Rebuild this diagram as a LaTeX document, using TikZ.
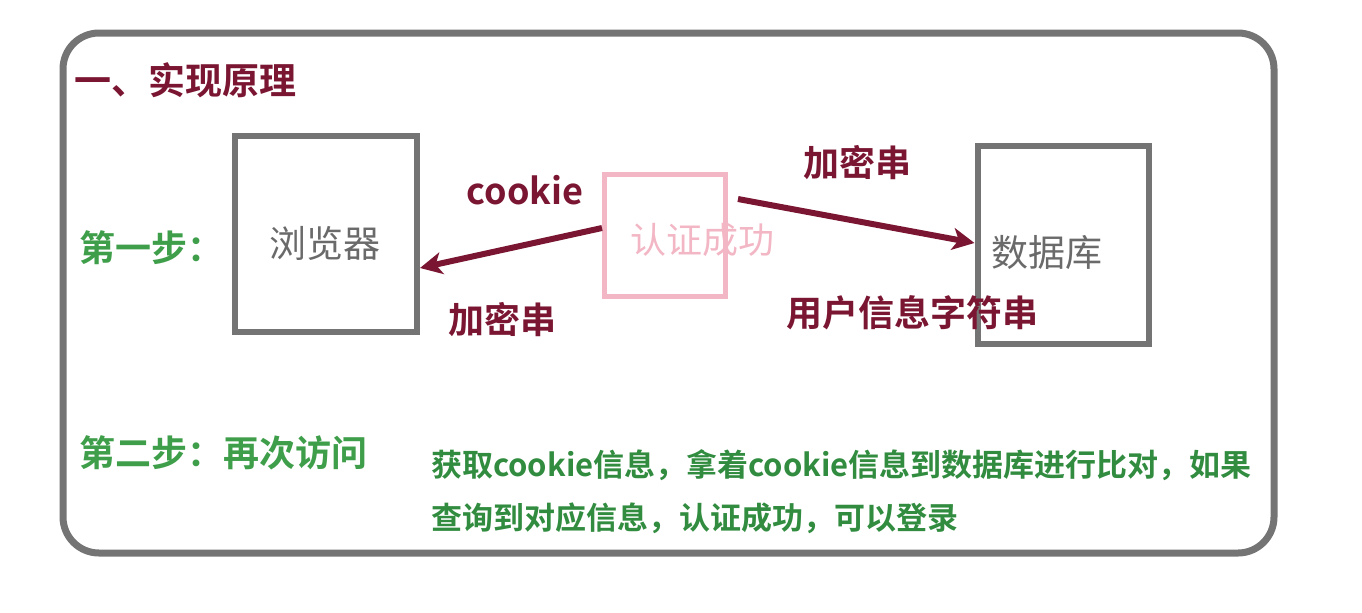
\documentclass[tikz,border=0pt]{standalone}
\usepackage{fontspec}
\setmainfont{Noto Sans CJK SC}[BoldFont=* Bold]
\usepackage{xcolor}
\usetikzlibrary{arrows.meta}
\definecolor{maroon}{HTML}{7A1632}
\definecolor{stepgreen}{HTML}{3E9E4A}
\definecolor{notegreen}{HTML}{318C40}
\definecolor{boxgray}{HTML}{747474}
\definecolor{textgray}{HTML}{6A6A6A}
\definecolor{stamppink}{HTML}{F2B6C4}

\begin{document}
\begin{tikzpicture}[x=0.5pt,y=-0.5pt,
  box/.style={draw=boxgray,line width=3pt,inner sep=0pt},
  boxname/.style={text=textgray,font=\fontsize{18.5}{20}\selectfont},
  lbl/.style={text=maroon,font=\fontsize{18}{20}\selectfont\bfseries},
  steplbl/.style={text=stepgreen,anchor=west,font=\fontsize{18}{20}\selectfont\bfseries},
  flow/.style={draw=maroon,line width=3pt,-{Stealth[length=11pt,width=11pt,inset=3pt]}}]
  \useasboundingbox (0,0) rectangle (1362,612);
  \draw[boxgray,line width=3.5pt,rounded corners=18pt] (63,33) rectangle (1274,553);
  \node[lbl,anchor=west,font=\fontsize{18.5}{20}\selectfont\bfseries] (title) at (67,80) {一、实现原理};
  % boxes
  \node[box,minimum width=91pt,minimum height=98pt] (browser) at (326,234) {};
  \node[boxname] (browsername) at (325,243) {浏览器};
  \node[box,minimum width=85.5pt,minimum height=99pt] (db) at (1063,245) {};
  \node[boxname] (dbname) at (1047,253) {数据库};
  \node[box,draw=stamppink,line width=2.5pt,minimum width=60.5pt,minimum height=61pt] (auth) at (665,235) {};
  \node[text=stamppink,font=\fontsize{18}{20}\selectfont] (authtxt) at (702,240) {认证成功};
  % arrows and labels
  \draw[flow] ([yshift=3.5pt]auth.west) -- ([yshift=-17pt]browser.east);
  \draw[flow] ([xshift=5pt,yshift=18pt]auth.east) -- ([yshift=1pt]db.west);
  \node[lbl] (cookie) at (525,190) {cookie}; \node[lbl] (enca) at (502,320) {加密串};
  \node[lbl] (encb) at (857,163) {加密串}; \node[lbl] (userinfo) at (912,313) {用户信息字符串};
  % steps
  \node[steplbl] (stepa) at (72,248) {第一步：};
  \node[steplbl] (stepb) at (72,453) {第二步：再次访问};
  \node[text=notegreen,anchor=west,align=left,font=\fontsize{15.5}{26.5}\selectfont\bfseries] (note) at (424,492) {获取cookie信息，拿着cookie信息到数据库进行比对，如果\\查询到对应信息，认证成功，可以登录};
\end{tikzpicture}
\end{document}
